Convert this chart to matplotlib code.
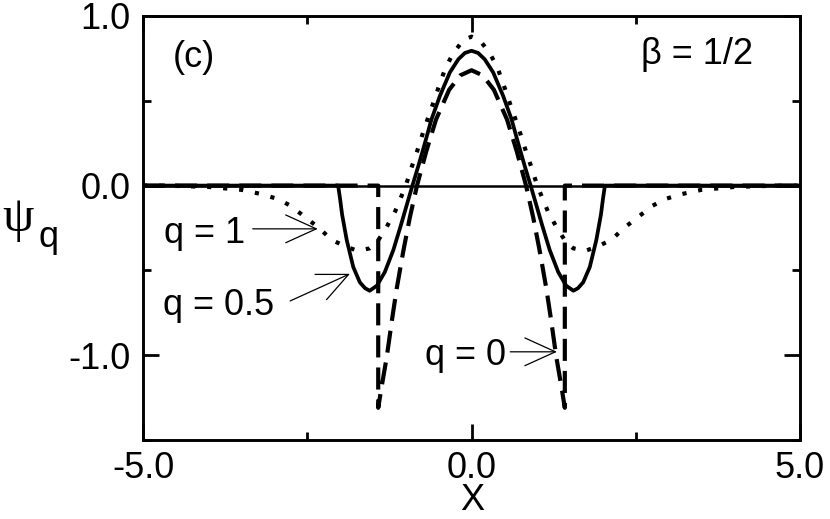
'''
Wavefunctions psi_q for beta = 1/2, panel (c).
'''
import matplotlib
matplotlib.use('Agg')
import matplotlib.pyplot as plt
from matplotlib.ticker import MultipleLocator, FormatStrFormatter

plt.rcParams['font.family'] = ['Liberation Sans', 'DejaVu Sans']
plt.rcParams['axes.unicode_minus'] = False

# q = 1 (dotted)
x_q1 = [-5.0, -4.5, -4.0, -3.5, -3.2, -2.94, -2.75, -2.52, -2.32, -2.13, -1.91,
        -1.73, -1.55, -1.45, -1.30, -1.16, -1.0, -0.91, -0.83, -0.74, -0.67,
        -0.58, -0.51, -0.40, -0.28, -0.12, 0.0,
        0.12, 0.28, 0.40, 0.51, 0.58, 0.67, 0.74, 0.83, 0.91, 1.0, 1.16, 1.30,
        1.45, 1.55, 1.73, 1.91, 2.13, 2.32, 2.52, 2.75, 2.94, 3.2, 3.5, 4.0,
        4.5, 5.0]
y_q1 = [0.0, -0.002, -0.008, -0.025, -0.05, -0.08, -0.12, -0.19, -0.25, -0.32, -0.36,
        -0.385, -0.37, -0.34, -0.25, -0.15, 0.0, 0.11, 0.20, 0.31, 0.39,
        0.49, 0.57, 0.69, 0.78, 0.86, 0.878,
        0.86, 0.78, 0.69, 0.57, 0.49, 0.39, 0.31, 0.20, 0.11, 0.0, -0.15, -0.25,
        -0.34, -0.37, -0.385, -0.36, -0.32, -0.25, -0.19, -0.12, -0.08, -0.05, -0.025, -0.008,
        -0.002, 0.0]

# q = 0.5 (solid)
x_q05 = [-5.0, -2.03, -2.0, -1.97, -1.90, -1.80, -1.70, -1.62, -1.55, -1.44,
         -1.32, -1.19, -1.08, -0.99, -0.90, -0.81, -0.71, -0.61, -0.48, -0.33,
         -0.2, -0.1, 0.0,
         0.1, 0.2, 0.33, 0.48, 0.61, 0.71, 0.81, 0.90, 0.99, 1.08, 1.19, 1.32,
         1.44, 1.55, 1.62, 1.70, 1.80, 1.90, 1.97, 2.0, 2.03, 5.0]
y_q05 = [0.0, 0.0, -0.08, -0.17, -0.32, -0.48, -0.57, -0.605, -0.62, -0.59,
         -0.51, -0.38, -0.24, -0.12, 0.0, 0.115, 0.25, 0.39, 0.53, 0.667,
         0.745, 0.782, 0.795,
         0.782, 0.745, 0.667, 0.53, 0.39, 0.25, 0.115, 0.0, -0.12, -0.24, -0.38, -0.51,
         -0.59, -0.62, -0.605, -0.57, -0.48, -0.32, -0.17, -0.08, 0.0, 0.0]

# q = 0 (dashed)
x_q0 = [-5.0, -1.42, -1.42, -1.37, -1.29, -1.21, -1.14, -1.04, -0.94, -0.83,
        -0.69, -0.54, -0.34, -0.17, 0.0,
        0.17, 0.34, 0.54, 0.69, 0.83, 0.94, 1.04, 1.14, 1.21, 1.29, 1.37,
        1.42, 1.42, 5.0]
y_q0 = [0.0, 0.0, -1.31, -1.19, -1.01, -0.79, -0.61, -0.39, -0.19, 0.0,
        0.20, 0.39, 0.565, 0.65, 0.68,
        0.65, 0.565, 0.39, 0.20, 0.0, -0.19, -0.39, -0.61, -0.79, -1.01, -1.19,
        -1.31, 0.0, 0.0]

fs = 26

fig = plt.figure(figsize=(8.3, 5.19), dpi=100)
ax = fig.add_axes([0.1723, 0.1522, 0.7916, 0.8170])

ax.axhline(0, color='black', lw=1.8, zorder=1)
ax.plot(x_q1, y_q1, color='black', lw=3.0, linestyle=(0, (1, 2.85)),
        dash_capstyle='butt')
ax.plot(x_q05, y_q05, color='black', lw=2.7, solid_joinstyle='round')
ax.plot(x_q0, y_q0, color='black', lw=3.0, linestyle=(0, (5.3, 2.4)),
        dash_capstyle='butt')

ax.set_xlim(-5, 5)
ax.set_ylim(-1.5, 1.0)
ax.xaxis.set_major_locator(MultipleLocator(5))
ax.xaxis.set_minor_locator(MultipleLocator(2.5))
ax.yaxis.set_major_locator(MultipleLocator(1))
ax.yaxis.set_minor_locator(MultipleLocator(0.5))
ax.xaxis.set_major_formatter(FormatStrFormatter('%.1f'))
ax.yaxis.set_major_formatter(FormatStrFormatter('%.1f'))
ax.tick_params(which='both', direction='in', top=True, right=True, width=2.0)
ax.tick_params(which='major', length=11.5, labelsize=fs)
ax.tick_params(which='minor', length=5.5)
ax.tick_params(axis='y', pad=9)
ax.tick_params(axis='x', pad=8)
for s in ax.spines.values():
    s.set_linewidth(2.1)

# annotations
ax.text(-4.54, 0.70, '(c)', fontsize=fs, ha='left', va='baseline')
ax.text(4.28, 0.716, 'β = 1/2', fontsize=fs, ha='right', va='baseline')

arrow = dict(arrowstyle='->, head_length=2.2, head_width=1.0', color='black', lw=0.9,
             shrinkA=0, shrinkB=0)
ax.text(-4.68, -0.34, 'q = 1', fontsize=fs, ha='left', va='baseline')
ax.annotate('', xy=(-2.34, -0.255), xytext=(-3.33, -0.255), arrowprops=arrow)
ax.text(-4.70, -0.763, 'q = 0.5', fontsize=fs, ha='left', va='baseline')
ax.annotate('', xy=(-1.85, -0.52), xytext=(-2.76, -0.68), arrowprops=arrow)
ax.text(0.52, -1.06, 'q = 0', fontsize=fs, ha='right', va='baseline')
ax.annotate('', xy=(1.30, -0.98), xytext=(0.59, -0.98), arrowprops=arrow)

# axis labels
fig.text(2 / 830, 1 - 219 / 519, 'ψ', fontsize=36, family=['Liberation Serif', 'DejaVu Serif'],
         ha='left', va='center')
fig.text(38 / 830, 1 - 247 / 519, 'q', fontsize=fs, ha='left', va='baseline')
fig.text(472 / 830, 1 / 519, 'X', fontsize=fs, ha='center', va='bottom')

plt.savefig('out.png', dpi=100)
